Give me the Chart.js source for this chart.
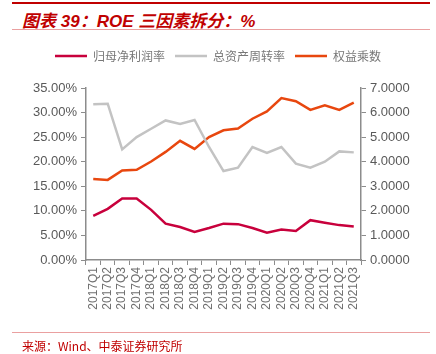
<!DOCTYPE html>
<html>
<head>
<meta charset="utf-8">
<script src="https://cdn.jsdelivr.net/npm/chart.js@4"></script>
<style>
  html, body { margin: 0; padding: 0; background: #fff; }
  #wrap { position: relative; width: 436px; height: 354px; overflow: hidden; }
  #topLine { position: absolute; left: 12px; top: 2px; width: 418px; height: 2px; background: #c00000; }
  #title { position: absolute; left: 22px; top: 7px; font: italic bold 17px "Liberation Sans", "Noto Sans CJK SC", sans-serif; color: #c00000; }
  #titleLine { position: absolute; left: 12px; top: 29px; width: 418px; height: 1px; background: #eaa0a0; }
  #bottomLine { position: absolute; left: 12px; top: 332px; width: 418px; height: 1px; background: #eaa0a0; }
  #source { position: absolute; left: 22px; top: 337px; font: 12px "Noto Sans CJK SC", sans-serif; color: #c00000; }
  canvas { position: absolute; left: 0; top: 0; }
</style>
</head>
<body>
<div id="wrap">
  <div id="topLine"></div>
  <div id="title">图表 39：ROE 三因素拆分：%</div>
  <div id="titleLine"></div>
  <canvas id="chart" width="436" height="354"></canvas>
  <div id="bottomLine"></div>
  <div id="source">来源：Wind、中泰证券研究所</div>
</div>
<script>
// quarters
const quarters = ['2017Q1', '2017Q2', '2017Q3', '2017Q4', '2018Q1', '2018Q2', '2018Q3', '2018Q4',
    '2019Q1', '2019Q2', '2019Q3', '2019Q4', '2020Q1', '2020Q2', '2020Q3', '2020Q4',
    '2021Q1', '2021Q2', '2021Q3'];

// left axis, %
const netMargin = [9.0, 10.4, 12.5, 12.5, 10.2, 7.4, 6.7, 5.7, 6.5, 7.4, 7.3, 6.5, 5.55, 6.2, 5.9, 8.1, 7.6, 7.1, 6.8];
const assetTurnover = [31.7, 31.8, 22.5, 25.0, 26.7, 28.4, 27.7, 28.5, 23.0, 18.1, 18.8, 23.0, 21.8, 23.0, 19.6, 18.8, 20.0, 22.1, 21.9];

// right axis
const equityMultiplier = [3.30, 3.26, 3.64, 3.67, 4.01, 4.40, 4.85, 4.52, 5.00, 5.28, 5.35, 5.75, 6.05, 6.59, 6.46, 6.11, 6.30, 6.11, 6.40];

const tickColor = '#595959';
const axisColor = '#8c8c8c';

// keep legend block a fixed height so the plot starts where it should
const legendHeight = {
    id: 'legendHeight',
    beforeInit(chart) {
        const fit = chart.legend.fit;
        chart.legend.fit = function () {
            fit.bind(chart.legend)();
            this.height = 48;
        };
    }
};

new Chart(document.getElementById('chart'), {
    type: 'line',
    data: {
        labels: quarters,
        datasets: [
            { label: '归母净利润率', data: netMargin, borderColor: '#c8003c', yAxisID: 'y' },
            { label: '总资产周转率', data: assetTurnover, borderColor: '#c3c3c3', yAxisID: 'y' },
            { label: '权益乘数', data: equityMultiplier, borderColor: '#e8470f', yAxisID: 'y1' }
        ]
    },
    options: {
        responsive: false,
        animation: false,
        layout: { padding: { top: 40, left: 0, right: 0, bottom: 0 } },
        elements: {
            line: { borderWidth: 2.5, tension: 0, fill: false },
            point: { radius: 0 }
        },
        plugins: {
            legend: {
                position: 'top',
                labels: {
                    boxWidth: 32,
                    boxHeight: 0,
                    padding: 10,
                    color: '#777777',
                    font: { family: '"Noto Sans CJK SC"', size: 12 }
                }
            },
            tooltip: { enabled: false }
        },
        scales: {
            x: {
                offset: true,
                grid: { drawOnChartArea: false, offset: true, tickLength: 5, color: axisColor },
                border: { color: axisColor, width: 1.5 },
                ticks: {
                    maxRotation: 90, minRotation: 90, autoSkip: false,
                    color: '#707070', font: { family: '"Liberation Sans"', size: 12 }, padding: 2
                },
                afterFit(scale) { scale.height = 94; }
            },
            y: {
                position: 'left',
                min: 0, max: 35,
                grid: { drawOnChartArea: false, tickLength: 5, color: axisColor },
                border: { color: axisColor, width: 1.5 },
                ticks: {
                    stepSize: 5, color: tickColor, padding: 4,
                    font: { family: '"Liberation Sans"', size: 13 },
                    callback: v => v.toFixed(2) + '%'
                },
                afterFit(scale) { scale.width = 86; }
            },
            y1: {
                position: 'right',
                min: 0, max: 7,
                grid: { drawOnChartArea: false, tickLength: 5, color: axisColor },
                border: { color: axisColor, width: 1.5 },
                ticks: {
                    stepSize: 1, color: tickColor, padding: 4,
                    font: { family: '"Liberation Sans"', size: 13 },
                    callback: v => v.toFixed(4)
                },
                afterFit(scale) { scale.width = 75; }
            }
        }
    },
    plugins: [legendHeight]
});
</script>
</body>
</html>
